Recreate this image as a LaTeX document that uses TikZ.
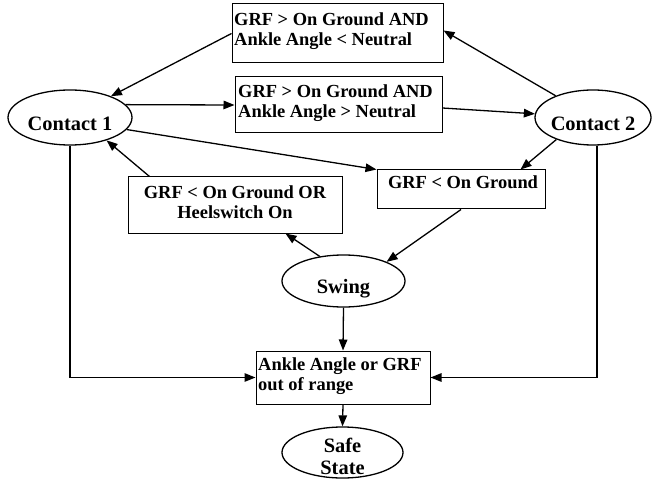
\documentclass[tikz,border=0pt]{standalone}
\usepackage{fontspec}
\setmainfont{Liberation Serif}
\usetikzlibrary{arrows.meta,shapes.geometric}

\begin{document}
\begin{tikzpicture}[x=1bp,y=-1bp,
  state/.style={draw, ellipse, line width=1.3bp, inner sep=0pt},
  statetext/.style={inner sep=0pt, align=center,
    font=\bfseries\fontsize{20.5}{22}\selectfont},
  cond/.style={draw, rectangle, line width=1bp, inner sep=0pt},
  condtext/.style={inner sep=0pt, font=\bfseries\fontsize{18.5}{20}\selectfont},
  link/.style={line width=1.3bp, -{Triangle[length=11bp,width=8.5bp]}}
]
\useasboundingbox (0,0) rectangle (652,482);

% condition boxes
\node[cond, minimum width=211bp, minimum height=59bp] (A) at (337.5,33.5) {};
\node[condtext, anchor=west, align=left] (tA) at (234,31.5)
  {GRF > On Ground AND\\Ankle Angle < Neutral};

\node[cond, minimum width=207bp, minimum height=56bp] (B) at (338.5,105) {};
\node[condtext, anchor=west, align=left] (tB) at (238,103.5)
  {GRF > On Ground AND\\Ankle Angle > Neutral};

\node[cond, minimum width=168bp, minimum height=39bp] (C) at (461,189.5) {};
\node[condtext] (tC) at (463,182) {GRF < On Ground};

\node[cond, minimum width=214bp, minimum height=56bp] (D) at (235,205) {};
\node[condtext, align=center] (tD) at (235,202.3)
  {GRF < On Ground OR\\Heelswitch On};

\node[cond, minimum width=174bp, minimum height=53bp] (E) at (343,377.5) {};
\node[condtext, anchor=west, align=left] (tE) at (258,376.5)
  {Ankle Angle or GRF\\out of range};

% states
\node[state, minimum width=124bp, minimum height=55bp,
  label={[statetext,yshift=-6bp]center:Contact 1}] (C1) at (70,117.5) {};
\node[state, minimum width=116bp, minimum height=55bp,
  label={[statetext,yshift=-6bp]center:Contact 2}] (C2) at (593,117.5) {};
\node[state, minimum width=123bp, minimum height=52bp,
  label={[statetext,yshift=-8bp]center:Swing}] (S) at (343.5,281) {};
\node[state, minimum width=121bp, minimum height=51bp,
  label={[statetext,yshift=-3.5bp]center:Safe\\State}] (F) at (342.5,452.5) {};

% transitions
\draw[link] (A.west) -- (C1);
\draw[link] (C2) -- ([yshift=3bp]A.east);
\draw[link] (C1.13) -- (B.west);
\draw[link] ([yshift=-3bp]B.east) -- (C2);
\draw[link] (C1.-12) -- (C.north west);
\draw[link] (C2.-149) -- ([xshift=-25bp]C.north east);
\draw[link] ([xshift=22bp]D.north west) -- (C1.-32);
\draw[link] (S.134) -- ([xshift=-57bp]D.south east);
\draw[link] (C.south) -- (S.24);
\draw[link] (S.south) -- (E.north);
\draw[link] (E.south) -- (F.north);
\draw[link] (C1.south) |- (E.west);
\draw[link] ([xshift=4bp]C2.south) |- (E.east);
\end{tikzpicture}
\end{document}
